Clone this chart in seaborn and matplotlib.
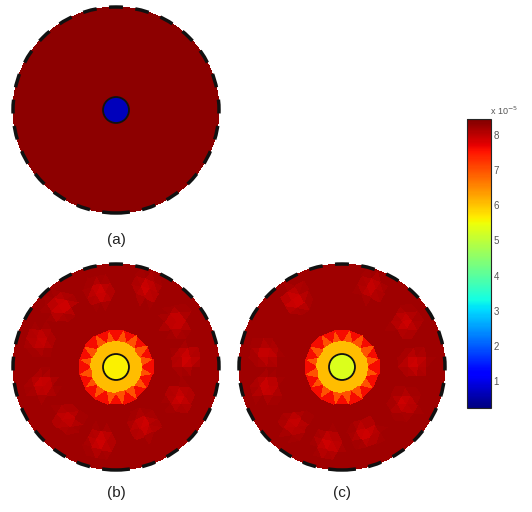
import numpy as np
import matplotlib
matplotlib.use("Agg")
import matplotlib.pyplot as plt
import matplotlib.tri as mtri
from matplotlib.patches import Circle
from matplotlib.colors import Normalize
from matplotlib.cm import ScalarMappable
import seaborn as sns

sns.set_theme(style="white")
plt.rcParams['font.family'] = ['Liberation Sans', 'DejaVu Sans']

# ---------------- data (conductivity, x 1e-5) ----------------
panel_labels = ["(a)", "(b)", "(c)"]
ring_radius = [0.126, 0.25, 0.37]          # inclusion, halo, star-ring outer radii
# band values: inclusion, halo, star ring, spikes, background
band_a = [0.65, 8.35, 8.35, 8.35, 8.35]
band_b = [5.60, 6.05, 7.60, 7.00, 8.22]
band_c = [5.30, 6.05, 7.60, 7.00, 8.22]
# outer artefact blobs: angle (deg), radius, peak value
blob_ang_b = [102, 69, 132, 37, 160, 7, 194, -26, 226, -65, 258]
blob_rad_b = [0.74, 0.82, 0.80, 0.73, 0.78, 0.69, 0.73, 0.69, 0.69, 0.63, 0.74]
blob_val_b = [7.90, 7.90, 7.85, 7.90, 7.95, 7.90, 7.90, 7.90, 7.95, 7.90, 7.90]
blob_ang_c = [125, 70, 35, 170, 3, 195, -30, 230, -70, 260]
blob_rad_c = [0.80, 0.82, 0.75, 0.75, 0.70, 0.75, 0.70, 0.72, 0.68, 0.76]
blob_val_c = [7.85, 7.95, 7.90, 7.95, 7.90, 7.90, 7.90, 7.95, 7.90, 7.90]
blob_ang_a, blob_rad_a, blob_val_a = [], [], []
cbar_ticks = [1, 2, 3, 4, 5, 6, 7, 8]
vmin, vmax = 0.23, 8.46

# ---------------- mesh ----------------
mesh_r = [0.0, 0.126, 0.25, 0.37, 0.46, 0.55, 0.64, 0.73, 0.82, 0.91, 1.0]
mesh_n = [1, 24, 16, 16, 30, 36, 42, 48, 54, 60, 72]
xs, ys, ring_id = [], [], []
for i, (r, n) in enumerate(zip(mesh_r, mesh_n)):
    off = (np.pi / n) if i == 3 else 0.0
    th = np.arange(n) * 2 * np.pi / n + off
    xs.extend(r * np.cos(th)); ys.extend(r * np.sin(th)); ring_id.extend([i] * n)
xs = np.array(xs); ys = np.array(ys); ring_id = np.array(ring_id)
tri = mtri.Triangulation(xs, ys)
tris = tri.triangles
cx = xs[tris].mean(axis=1); cy = ys[tris].mean(axis=1)


def face_values(band, b_ang, b_rad, b_val):
    rid = ring_id[tris]
    mn = rid.min(axis=1)
    n2 = (rid == 2).sum(axis=1)
    v = np.full(len(tris), band[4])
    v[mn == 0] = band[0]
    v[mn == 1] = band[1]
    star = mn == 2
    v[star] = band[2]
    v[star & (n2 == 2)] = band[3]
    for a, r, val in zip(b_ang, b_rad, b_val):
        bx, by = r * np.cos(np.radians(a)), r * np.sin(np.radians(a))
        d = np.hypot(cx - bx, cy - by)
        w = np.clip(1.2 * (1 - d / 0.16), 0, 1)
        sel = (w > 0) & (mn >= 3)
        v[sel] = np.minimum(v[sel], band[4] - (band[4] - val) * w[sel])
    return v


cmap = plt.get_cmap("jet")
norm = Normalize(vmin=vmin, vmax=vmax)

W, H = 532, 512
fig = plt.figure(figsize=(W / 100, H / 100), dpi=100)
fig.patch.set_facecolor("white")

panels = [
    ((116, 110), band_a, blob_ang_a, blob_rad_a, blob_val_a),
    ((116, 367), band_b, blob_ang_b, blob_rad_b, blob_val_b),
    ((342, 367), band_c, blob_ang_c, blob_rad_c, blob_val_c),
]
R = 103
lim = 1.04
for (cxp, cyp), band, ba, br, bv in panels:
    half = R * lim
    ax = fig.add_axes([(cxp - half) / W, (H - cyp - half) / H, 2 * half / W, 2 * half / H])
    vals = face_values(band, ba, br, bv)
    ax.tripcolor(tri, facecolors=vals, cmap=cmap, norm=norm,
                 edgecolors="none", antialiased=False)
    ax.add_patch(Circle((0, 0), 1.0, fill=False, edgecolor="#111111",
                        lw=2.5, ls=(0, (4, 3.6))))
    ax.add_patch(Circle((0, 0), ring_radius[0], fill=False, edgecolor="#111111", lw=1.3))
    ax.set_xlim(-lim, lim); ax.set_ylim(-lim, lim)
    ax.set_aspect("equal")
    ax.axis("off")

label_pos = [(116, 240), (116, 493), (342, 493)]
for lab, (lx, ly) in zip(panel_labels, label_pos):
    fig.text(lx / W, (H - ly) / H, lab, ha="center", va="center",
             fontsize=11, color="#222222")

# colorbar
cax = fig.add_axes([467 / W, (H - 408) / H, 24 / W, 289 / H])
cb = fig.colorbar(ScalarMappable(norm=norm, cmap=cmap), cax=cax, ticks=cbar_ticks)
cb.outline.set_linewidth(0.8)
cax.yaxis.set_ticks_position("both")
cax.tick_params(axis="y", direction="in", length=3, width=0.6, color="#333333",
                labelsize=7, labelcolor="#555555", labelright=True, labelleft=False, pad=2)
fig.text(490 / W, (H - 111) / H, r"x 10$^{-5}$", fontsize=6.5, color="#555555",
         ha="left", va="center")

fig.savefig("out.png", dpi=100, facecolor="white")
